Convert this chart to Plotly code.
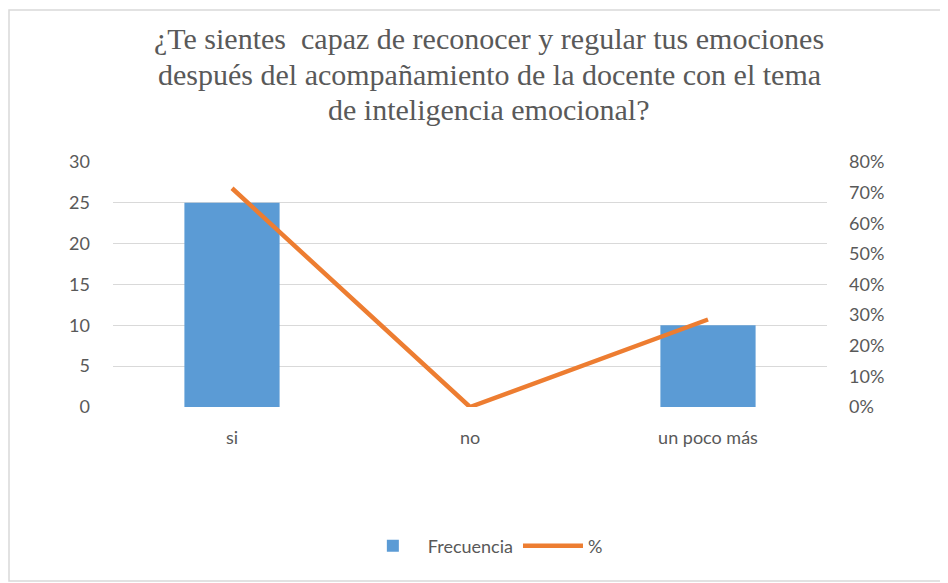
import plotly.graph_objects as go

categories = ["si", "no", "un poco más"]
frecuencia = [25, 0, 10]
porcentaje = [0.7143, 0.0, 0.2857]
left_ticks = [0, 5, 10, 15, 20, 25, 30]
right_ticks = [0, 0.1, 0.2, 0.3, 0.4, 0.5, 0.6, 0.7, 0.8]

title_lines = ["¿Te sientes  capaz de reconocer y regular tus emociones",
               "después del acompañamiento de la docente con el tema",
               "de inteligencia emocional?"]

W, H = 940, 575
L, T, PW, PH = 105, 154, 714, 245

fig = go.Figure()
fig.add_trace(go.Bar(x=categories, y=frecuencia, name="Frecuencia",
                     marker=dict(color="#5b9bd5", line=dict(width=0)),
                     width=0.4, yaxis="y"))
fig.add_trace(go.Scatter(x=categories, y=porcentaje, name="%", mode="lines",
                         line=dict(color="#ed7d31", width=4.5), yaxis="y2"))

tickfont = dict(family="Lato", size=18, color="#595959")

title_centers_px = [30, 66, 101]
annotations = [dict(text=line, xref="paper", yref="paper", x=(481 - L) / PW,
                    y=1 + (T - cy) / PH, xanchor="center", yanchor="middle",
                    showarrow=False,
                    font=dict(family="Liberation Serif", size=30, color="#595959"))
               for line, cy in zip(title_lines, title_centers_px)]

fig.update_layout(
    width=W, height=H,
    paper_bgcolor="white", plot_bgcolor="white",
    margin=dict(l=L, r=W - L - PW, t=T, b=H - T - PH),
    xaxis=dict(showgrid=False, showline=False, ticks="", tickfont=tickfont,
               ticklabelstandoff=18),
    yaxis=dict(range=[0, 30], tickvals=left_ticks, showgrid=True, gridcolor="#d9d9d9",
               gridwidth=1.2, zeroline=False, tickfont=tickfont, ticks="",
               ticklabelstandoff=22),
    yaxis2=dict(range=[0, 0.8], tickvals=right_ticks, tickformat=".0%", overlaying="y",
                side="right", showgrid=False, zeroline=False, tickfont=tickfont,
                ticklabelstandoff=21),
    legend=dict(orientation="h", x=0.518, xanchor="center", y=-(538 - T - PH) / PH,
                yanchor="middle", font=tickfont, itemwidth=60),
    showlegend=True,
    annotations=annotations,
    shapes=[dict(type="rect", xref="paper", yref="paper",
                 x0=(1 - L) / PW, x1=(W - 2 - L) / PW,
                 y0=-(H - 2 - T - PH) / PH, y1=1 + (T - 2) / PH,
                 line=dict(color="#d9d9d9", width=1.5), fillcolor="rgba(0,0,0,0)")],
)

fig.write_html("out.html")
